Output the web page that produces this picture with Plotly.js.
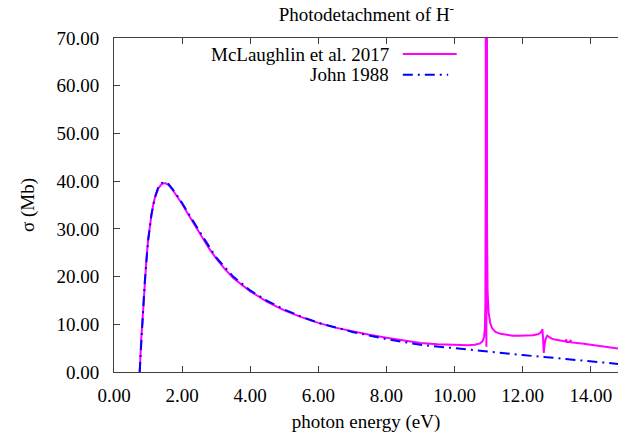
<!DOCTYPE html>
<html>
<head>
<meta charset="utf-8">
<script src="https://cdn.plot.ly/plotly-3.0.1.min.js"></script>
<style>html,body{margin:0;padding:0;background:#fff;}#chart{width:618px;height:438px;}</style>
</head>
<body>
<div id="chart"></div>
<script>
// McLaughlin et al. 2017
const energyMcL = [0.754,0.76,0.78,0.80,0.83,0.86,0.90,0.95,1.00,1.05,1.10,1.15,1.20,1.30,1.40,1.50,1.60,1.70,1.80,1.90,2.00,2.20,2.40,2.60,2.80,3.00,3.25,3.50,3.75,4.00,4.50,5.00,5.50,6.00,6.50,7.00,7.50,8.00,8.50,9.00,9.50,10.00,10.40,10.60,10.75,10.83,10.87,10.89,10.905,10.915,10.925,10.93,10.935,10.94,10.945,10.955,10.97,11.00,11.05,11.10,11.20,11.35,11.50,11.70,11.90,12.10,12.30,12.45,12.52,12.56,12.58,12.60,12.62,12.64,12.67,12.72,12.78,12.85,12.95,13.10,13.25,13.28,13.30,13.38,13.41,13.43,13.60,13.80,14.00,14.20,14.40,14.60,14.80];
const sigmaMcL = [0,1.5,4.5,7.0,10.0,13.5,18.5,23.5,27.5,30.5,33.0,35.0,36.5,38.5,39.4,39.6,39.2,38.4,37.4,36.4,35.2,32.8,30.4,28.0,25.8,23.8,21.6,19.7,18.2,16.9,14.7,12.9,11.5,10.3,9.3,8.5,7.8,7.2,6.6,6.1,5.8,5.65,5.6,5.7,6.0,6.5,7.5,9.0,14,40,200,40,5.3,40,200,30,17,12.5,10.2,9.2,8.4,8.0,7.8,7.6,7.6,7.6,7.7,7.9,8.2,8.6,9.0,7.0,4.0,5.5,6.8,7.6,7.3,7.0,6.8,6.6,6.4,6.8,6.3,6.3,6.7,6.2,6.1,5.9,5.7,5.5,5.3,5.1,4.9];
// John 1988
const energyJohn = [0.754,0.80,0.86,0.90,1.00,1.10,1.20,1.30,1.40,1.50,1.60,1.80,2.00,2.50,3.00,3.50,4.00,4.50,5.00,5.50,6.00,7.00,8.00,9.00,10.00,11.00,12.00,13.00,14.00,14.80];
const sigmaJohn = [0,7.0,13.5,18.5,27.5,33.0,36.6,38.7,39.6,39.8,39.4,37.6,35.4,29.6,24.0,20.0,17.1,14.9,13.1,11.6,10.3,8.4,6.9,5.7,4.95,4.25,3.55,2.9,2.25,1.7];
const seriesNames = ["McLaughlin et al. 2017", "John 1988"];
const xTicks = [0,2,4,6,8,10,12,14];
const yTicks = [0,10,20,30,40,50,60,70];

const serif = "Liberation Serif";
const fs = 19;
const axisCol = "#404040";

const traces = [
  {x: energyMcL, y: sigmaMcL, mode: "lines", name: seriesNames[0],
   line: {color: "#ff00ff", width: 2}, showlegend: false},
  {x: energyJohn, y: sigmaJohn, mode: "lines", name: seriesNames[1],
   line: {color: "#0000ff", width: 2, dash: "10px,5px,2px,5px"}, showlegend: false}
];

const layout = {
  width: 618, height: 438,
  margin: {l: 114, r: 0, t: 38, b: 66},
  paper_bgcolor: "#fff", plot_bgcolor: "#fff",
  font: {family: serif, size: fs, color: "#000"},
  title: {text: "Photodetachment of H<sup>-</sup>", font: {family: serif, size: fs, color: "#000"},
          x: 0.5928, xanchor: "center", y: 0.968, yanchor: "middle"},
  xaxis: {range: [0, 14.8], tickvals: xTicks, ticktext: xTicks.map(v => v.toFixed(2)),
          ticks: "inside", ticklen: 6, tickcolor: axisCol, tickwidth: 1,
          showline: true, linecolor: axisCol, linewidth: 1, mirror: "ticks",
          showgrid: false, zeroline: false, ticklabelstandoff: 6,
          tickfont: {family: serif, size: fs, color: "#000"},
          title: {text: "photon energy (eV)", font: {family: serif, size: fs, color: "#000"}, standoff: 9}},
  yaxis: {range: [0, 70], tickvals: yTicks, ticktext: yTicks.map(v => v.toFixed(2)),
          ticks: "inside", ticklen: 6, tickcolor: axisCol, tickwidth: 1,
          showline: true, linecolor: axisCol, linewidth: 1,
          showgrid: false, zeroline: false, ticklabelstandoff: 10,
          tickfont: {family: serif, size: fs, color: "#000"},
          title: {text: "σ (Mb)", font: {family: serif, size: fs, color: "#000"}, standoff: 16}},
  showlegend: false,
  annotations: [
    {xref: "paper", yref: "paper", x: 0.549, y: 0.952, xanchor: "right", yanchor: "middle",
     text: seriesNames[0], showarrow: false, font: {family: serif, size: fs, color: "#000"}},
    {xref: "paper", yref: "paper", x: 0.549, y: 0.890, xanchor: "right", yanchor: "middle",
     text: seriesNames[1], showarrow: false, font: {family: serif, size: fs, color: "#000"}}
  ],
  shapes: [
    {type: "line", xref: "paper", yref: "paper", x0: 0.573, x1: 0.680, y0: 0.952, y1: 0.952,
     line: {color: "#ff00ff", width: 2}},
    {type: "line", xref: "paper", yref: "paper", x0: 0.573, x1: 0.663, y0: 0.890, y1: 0.890,
     line: {color: "#0000ff", width: 2, dash: "10px,5px,2px,5px"}}
  ]
};

Plotly.newPlot("chart", traces, layout, {displayModeBar: false, staticPlot: true});
</script>
</body>
</html>
